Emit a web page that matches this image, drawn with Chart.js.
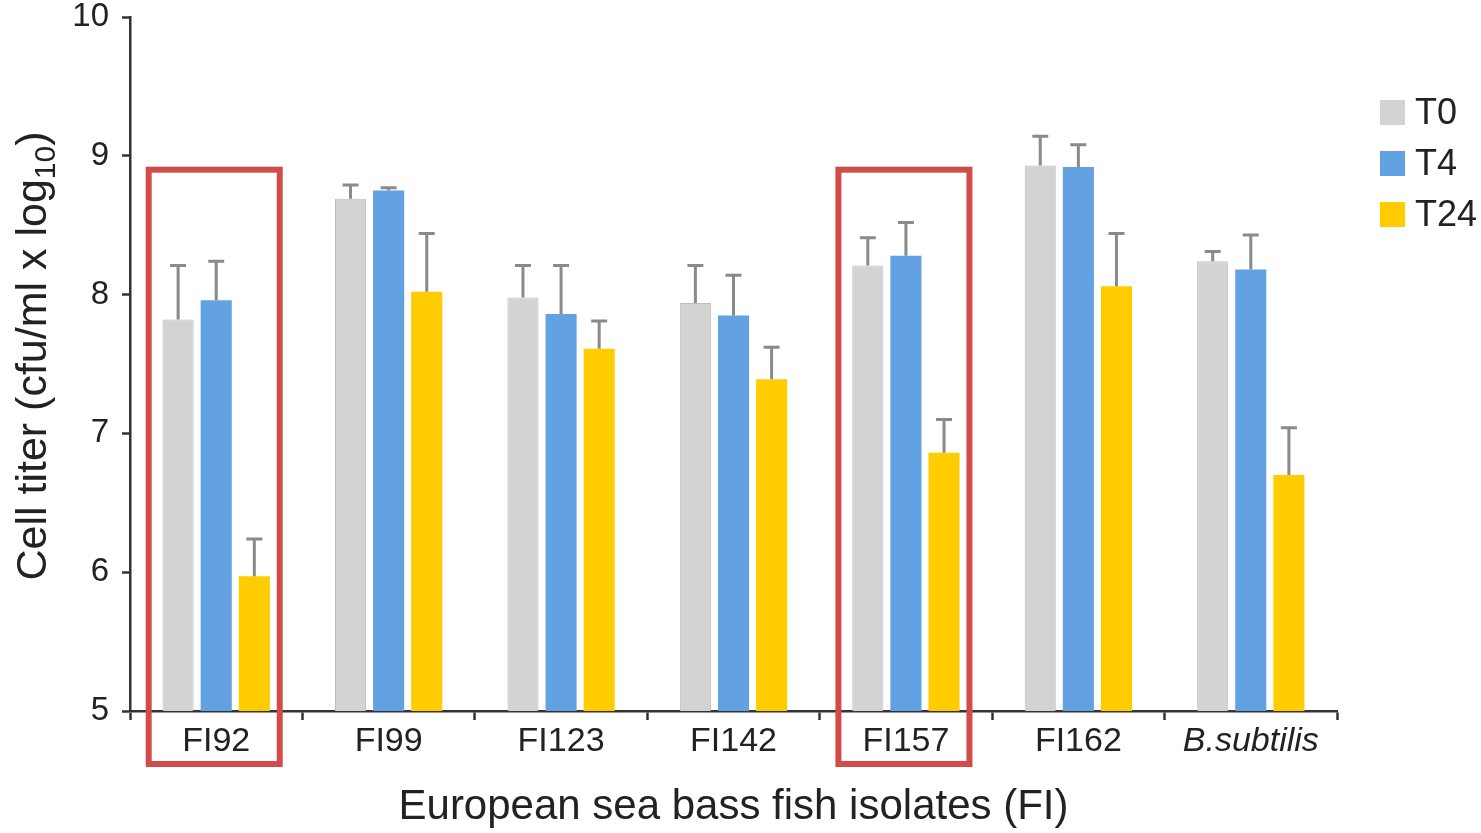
<!DOCTYPE html>
<html>
<head>
<meta charset="utf-8">
<script src="https://cdn.jsdelivr.net/npm/chart.js@4.4.1/dist/chart.umd.min.js"></script>
<style>
  html, body { margin: 0; padding: 0; background: #ffffff; }
  #wrap { width: 1481px; height: 833px; position: relative; }
</style>
</head>
<body>
<div id="wrap"><canvas id="chart" width="1481" height="833"></canvas></div>
<script>
// Isolates on the x axis
const isolates = ['FI92', 'FI99', 'FI123', 'FI142', 'FI157', 'FI162', 'B.subtilis'];

// Mean cell titer (log10 cfu/ml) at each sampling time
const t0Means  = [7.82, 8.69, 7.98, 7.94, 8.21, 8.93, 8.24];
const t4Means  = [7.96, 8.75, 7.86, 7.85, 8.28, 8.92, 8.18];
const t24Means = [5.97, 8.02, 7.61, 7.39, 6.86, 8.06, 6.70];

// Upper error (standard deviation) for each mean
const t0Err  = [0.39, 0.10, 0.23, 0.27, 0.20, 0.21, 0.07];
const t4Err  = [0.28, 0.02, 0.35, 0.29, 0.24, 0.16, 0.25];
const t24Err = [0.27, 0.42, 0.20, 0.23, 0.24, 0.38, 0.34];

// y axis tick values
const yTicks = [5, 6, 7, 8, 9, 10];

// Isolates outlined with a highlight frame
const highlighted = ['FI92', 'FI157'];

const FONT = '"Liberation Sans", Arial, Helvetica, sans-serif';
const AXIS_COLOR = '#333333';
const TEXT_COLOR = '#222222';

// Upward error whiskers with a cap, drawn over each bar
const errorBars = {
  id: 'errorBars',
  afterDatasetsDraw(chart) {
    const { ctx, scales: { y } } = chart;
    ctx.save();
    ctx.strokeStyle = '#8a8a8a';
    ctx.lineWidth = 3;
    ctx.lineCap = 'butt';
    chart.data.datasets.forEach((ds, di) => {
      const meta = chart.getDatasetMeta(di);
      meta.data.forEach((bar, i) => {
        const top = y.getPixelForValue(ds.data[i] + ds.errors[i]);
        ctx.beginPath();
        ctx.moveTo(bar.x, bar.y);
        ctx.lineTo(bar.x, top);
        ctx.moveTo(bar.x - 8, top);
        ctx.lineTo(bar.x + 8, top);
        ctx.stroke();
      });
    });
    ctx.restore();
  }
};

// Red frames around the highlighted isolates, reaching down over their labels
const highlightFrames = {
  id: 'highlightFrames',
  afterDraw(chart) {
    const { ctx, chartArea, scales: { x, y } } = chart;
    const step = x.getPixelForValue(1) - x.getPixelForValue(0);
    const half = step * 0.38;
    const top = y.getPixelForValue(8.9);
    const bottom = chartArea.bottom + 53;
    ctx.save();
    ctx.strokeStyle = '#d24b4b';
    ctx.lineWidth = 6;
    highlighted.forEach(name => {
      const cx = x.getPixelForValue(isolates.indexOf(name)) - 2;
      ctx.strokeRect(cx - half, top, half * 2, bottom - top);
    });
    ctx.restore();
  }
};

// Rotated y axis title with a subscript in log10
const yTitle = {
  id: 'yTitle',
  afterDraw(chart) {
    const { ctx, chartArea } = chart;
    const main = 'Cell titer (cfu/ml x log';
    const sub = '10';
    const tail = ')';
    ctx.save();
    ctx.fillStyle = TEXT_COLOR;
    ctx.textBaseline = 'alphabetic';
    ctx.font = '43px ' + FONT;
    const wMain = ctx.measureText(main).width;
    const wTail = ctx.measureText(tail).width;
    ctx.font = '30px ' + FONT;
    const wSub = ctx.measureText(sub).width;
    const total = wMain + wSub + wTail;
    const cy = (chartArea.top + chartArea.bottom) / 2 - 8;
    ctx.translate(46, cy);
    ctx.rotate(-Math.PI / 2);
    let xPos = -total / 2;
    ctx.font = '43px ' + FONT;
    ctx.fillText(main, xPos, 0);
    xPos += wMain;
    ctx.font = '30px ' + FONT;
    ctx.fillText(sub, xPos, 9);
    xPos += wSub;
    ctx.font = '43px ' + FONT;
    ctx.fillText(tail, xPos, 0);
    ctx.restore();
  }
};

// Legend at the right, built from the datasets
const sideLegend = {
  id: 'sideLegend',
  afterDraw(chart) {
    const { ctx, chartArea } = chart;
    const left = chartArea.right + 43;
    let top = 100;
    ctx.save();
    ctx.font = '36px ' + FONT;
    ctx.textBaseline = 'middle';
    chart.data.datasets.forEach(ds => {
      ctx.fillStyle = ds.backgroundColor;
      ctx.fillRect(left, top, 25, 25);
      ctx.fillStyle = TEXT_COLOR;
      ctx.fillText(ds.label, left + 35, top + 14);
      top += 51;
    });
    ctx.restore();
  }
};

new Chart(document.getElementById('chart'), {
  type: 'bar',
  data: {
    labels: isolates,
    datasets: [
      { label: 'T0',  data: t0Means,  errors: t0Err,  backgroundColor: '#d3d3d3', borderColor: '#bdbdbd', borderWidth: 1 },
      { label: 'T4',  data: t4Means,  errors: t4Err,  backgroundColor: '#62a1e2', borderColor: '#62a1e2', borderWidth: 0 },
      { label: 'T24', data: t24Means, errors: t24Err, backgroundColor: '#ffcc00', borderColor: '#ffcc00', borderWidth: 0 }
    ]
  },
  options: {
    responsive: false,
    animation: false,
    devicePixelRatio: 1,
    categoryPercentage: 0.663,
    barPercentage: 0.816,
    layout: { padding: { left: 0, right: 144, top: 17, bottom: 0 } },
    plugins: {
      legend: { display: false },
      tooltip: { enabled: false }
    },
    scales: {
      x: {
        afterFit: scale => { scale.height = 122; },
        grid: {
          display: true,
          drawOnChartArea: false,
          drawTicks: true,
          tickLength: 9,
          tickWidth: 2.5,
          tickColor: AXIS_COLOR,
          offset: true
        },
        border: { display: true, color: AXIS_COLOR, width: 2.5 },
        ticks: {
          color: TEXT_COLOR,
          padding: 1,
          font: ctx => ({
            family: FONT,
            size: 34,
            style: isolates[ctx.index] === 'B.subtilis' ? 'italic' : 'normal'
          })
        },
        title: {
          display: true,
          text: 'European sea bass fish isolates (FI)',
          color: TEXT_COLOR,
          font: { family: FONT, size: 42 },
          padding: { top: 0, bottom: 0 }
        }
      },
      y: {
        min: 5,
        max: 10,
        afterFit: scale => {
          scale.width = 130;
          scale.paddingTop = 0;
          scale.paddingBottom = 0;
        },
        afterBuildTicks: scale => { scale.ticks = yTicks.map(v => ({ value: v })); },
        grid: {
          display: true,
          drawOnChartArea: false,
          drawTicks: true,
          tickLength: 8,
          tickWidth: 2.5,
          tickColor: AXIS_COLOR
        },
        border: { display: true, color: AXIS_COLOR, width: 2.5 },
        ticks: {
          color: TEXT_COLOR,
          padding: 13,
          font: { family: FONT, size: 33 }
        }
      }
    }
  },
  plugins: [errorBars, highlightFrames, yTitle, sideLegend]
});
</script>
</body>
</html>
